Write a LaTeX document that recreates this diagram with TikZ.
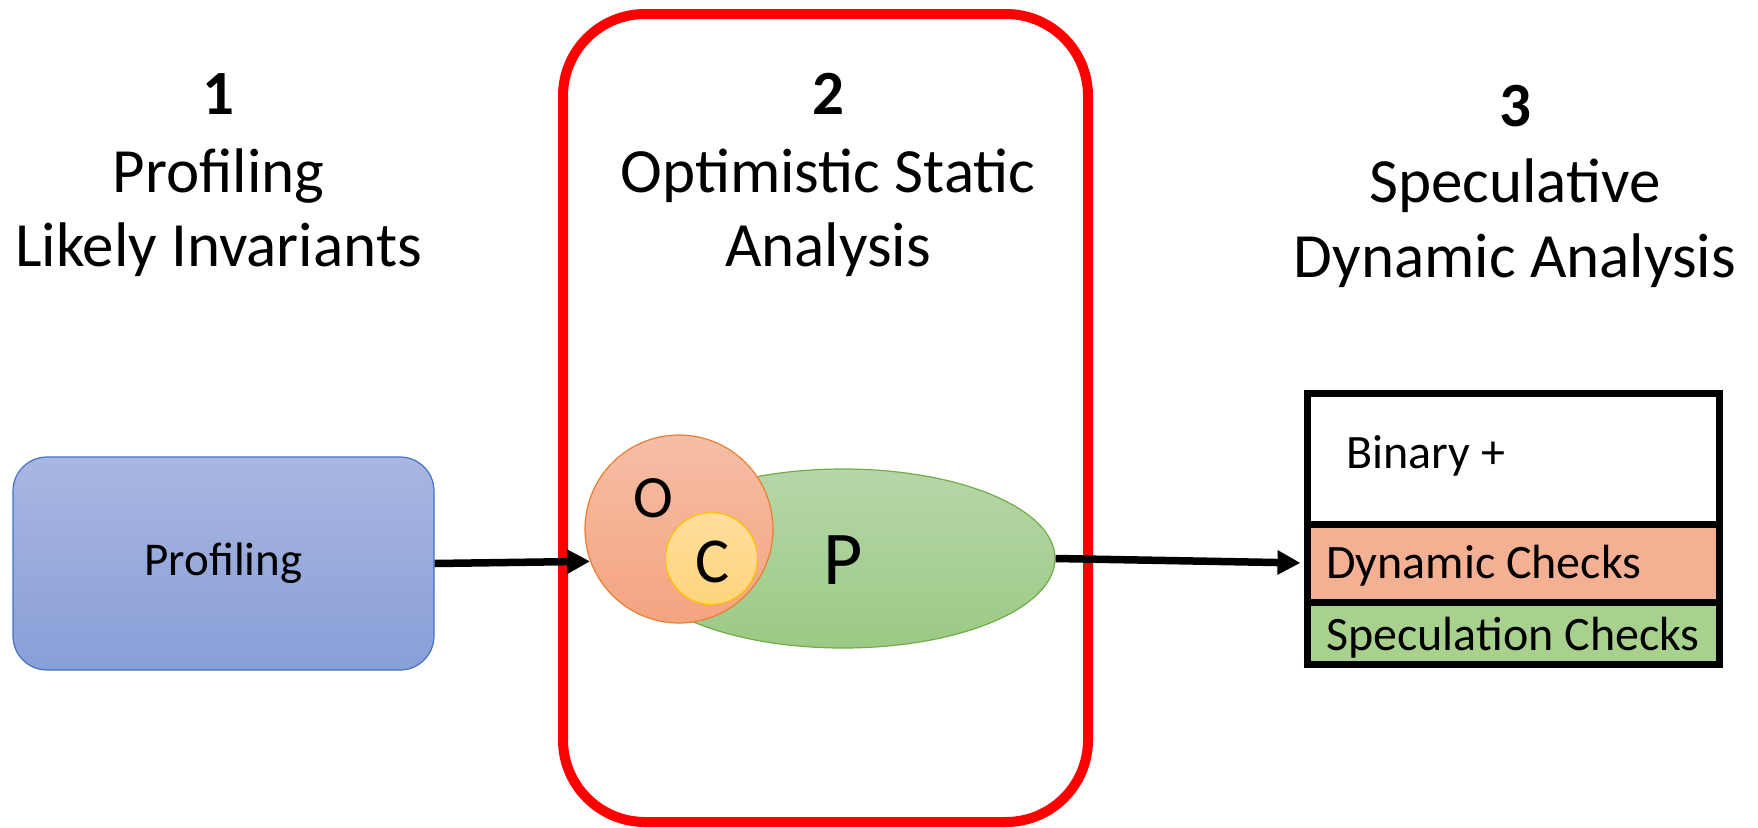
\documentclass[tikz,border=0pt]{standalone}
\usepackage{fontspec}
\setmainfont{Carlito}
\usetikzlibrary{arrows.meta,shapes.geometric}

\definecolor{profTop}{RGB}{169,182,225}
\definecolor{profBot}{RGB}{136,159,216}
\definecolor{profEdge}{RGB}{68,114,196}
\definecolor{oTop}{RGB}{246,190,166}
\definecolor{oBot}{RGB}{244,164,128}
\definecolor{oEdge}{RGB}{237,125,49}
\definecolor{cTop}{RGB}{255,222,157}
\definecolor{cBot}{RGB}{255,212,125}
\definecolor{cEdge}{RGB}{255,192,0}
\definecolor{pTop}{RGB}{182,215,168}
\definecolor{pBot}{RGB}{156,201,133}
\definecolor{pEdge}{RGB}{112,173,71}
\definecolor{dynFill}{RGB}{244,176,146}
\definecolor{specFill}{RGB}{169,209,142}

\begin{document}
\begin{tikzpicture}[x=1pt,y=-1pt,
  heading/.style={anchor=base, inner sep=0pt, font=\fontsize{63}{74}\selectfont},
  stagenum/.style={heading, font=\fontsize{63}{74}\selectfont\bfseries},
  conn/.style={line width=7.5pt, -{Triangle[length=23pt,width=23pt]}},
  layer/.style={draw=black, line width=7pt, minimum width=412pt, inner sep=0pt},
  layertext/.style={anchor=base west, inner sep=0pt, font=\fontsize{48}{58}\selectfont},
  setletter/.style={inner sep=0pt},
]
\useasboundingbox (0,0) rectangle (1758,827);

% stage 2 frame
\node (frame) [draw=red, line width=10pt, rounded corners=82pt,
  minimum width=525pt, minimum height=808pt, inner sep=0pt] at (825.5,418) {};

% headings
\node[stagenum] (n1) at (218.5,114) {1};
\node[heading] (h1a) at (218.5,192) {Profiling};
\node[heading] (h1b) at (218.5,266) {Likely Invariants};

\node[stagenum] (n2) at (828,114) {2};
\node[heading] (h2a) at (828,192) {Optimistic Static};
\node[heading] (h2b) at (828,266) {Analysis};

\node[stagenum] (n3) at (1515,126) {3};
\node[heading] (h3a) at (1515,202) {Speculative};
\node[heading] (h3b) at (1515,277) {Dynamic Analysis};

% stage 1: profiling box
\node (prof) [draw=profEdge, line width=1.2pt, rounded corners=34pt,
  top color=profTop, bottom color=profBot,
  minimum width=421pt, minimum height=213pt, inner sep=0pt,
  font=\fontsize{47}{56}\selectfont] at (223.5,563.5) {Profiling};

% stage 2: sets P, O, C
\node (pell) [ellipse, draw=pEdge, line width=1.2pt,
  top color=pTop, bottom color=pBot,
  minimum width=424pt, minimum height=179pt, inner sep=0pt] at (843,558.5) {};
\node (ocirc) [circle, draw=oEdge, line width=1.2pt,
  top color=oTop, bottom color=oBot,
  minimum size=188pt, inner sep=0pt] at (679,529) {};
\node (ccirc) [circle, draw=cEdge, line width=1.2pt,
  top color=cTop, bottom color=cBot,
  minimum size=92pt, inner sep=0pt] at (711.5,558.5) {};
\node[setletter, font=\fontsize{60}{72}\selectfont] (olab) at (653,498) {O};
\node[setletter, font=\fontsize{64}{76}\selectfont] (clab) at (713,562) {C};
\node[setletter, font=\fontsize{76}{90}\selectfont] (plab) at (843,560) {P};

% stage 3: instrumented binary
\node (bin) [layer, fill=white, minimum height=130.5pt] at (1513.5,458.75) {};
\node (dyn) [layer, fill=dynFill, minimum height=78pt] at (1513.5,563) {};
\node (spec) [layer, fill=specFill, minimum height=62.5pt] at (1513.5,633.25) {};
\node[layertext] (bint) at (1346,468) {Binary +};
\node[layertext] (dynt) at (1326,578) {Dynamic Checks};
\node[layertext] (spect) at (1326,650) {Speculation Checks};

% connectors
\draw[conn] (prof.east) -- (ocirc.200);
\draw[conn, shorten >=3.5pt] (pell.east) -- (dyn.west);
\end{tikzpicture}
\end{document}
